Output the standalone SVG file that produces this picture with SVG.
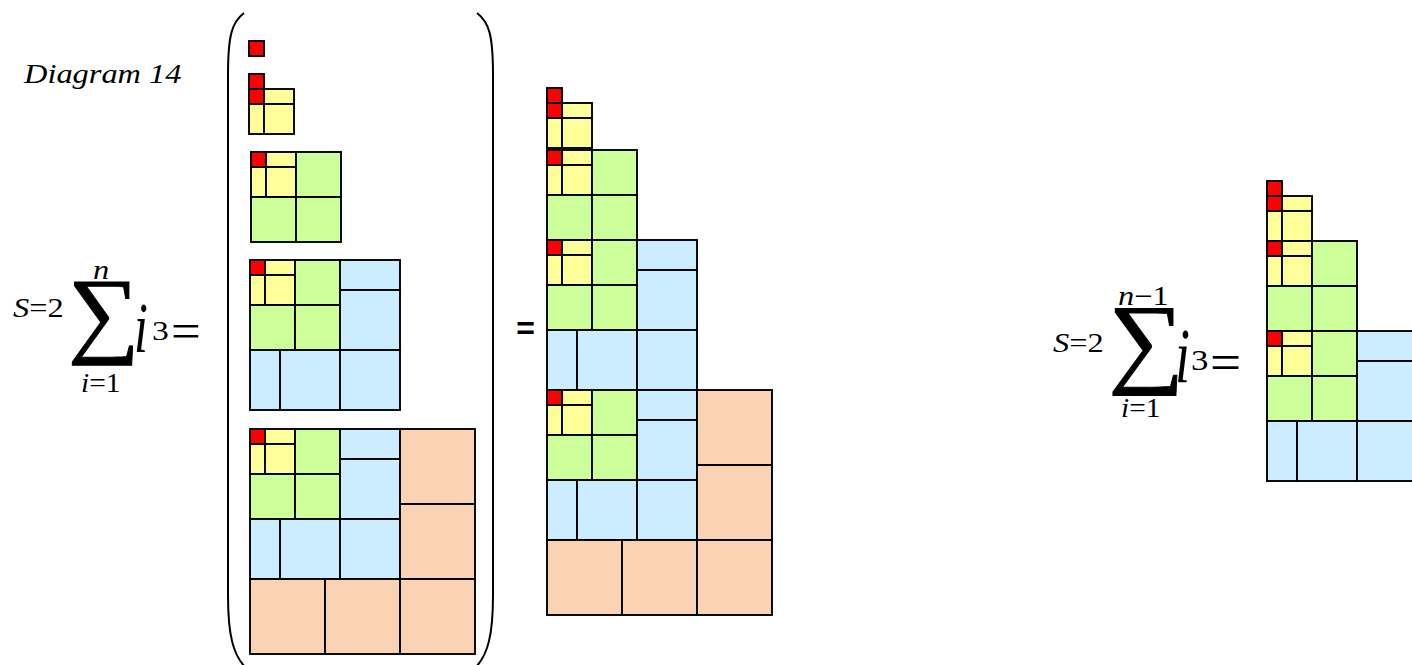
<svg xmlns="http://www.w3.org/2000/svg" xmlns:xlink="http://www.w3.org/1999/xlink" width="1412" height="665" viewBox="0 0 1412 665">
<style>
.cell{stroke:#000;stroke-width:1.9}
.r{fill:#FF0000}.y{fill:#FFFF99}.g{fill:#CCFF99}.b{fill:#CCECFF}.o{fill:#F9D3B4}
.t{font-family:"Liberation Serif","Times New Roman",serif;fill:#000}
.it{font-style:italic}
.sig{stroke:#000;stroke-width:0.9}
.paren{fill:none;stroke:#000;stroke-width:2}
</style>
<defs>
<g id="red"><rect class="cell r" x="0" y="0" width="15" height="15"/></g>
<g id="b2"><use href="#red"/><rect class="cell y" x="15" y="0" width="30" height="15"/><rect class="cell y" x="0" y="15" width="15" height="30"/><rect class="cell y" x="15" y="15" width="30" height="30"/></g>
<g id="b3"><use href="#b2"/><rect class="cell g" x="45" y="0" width="45" height="45"/><rect class="cell g" x="0" y="45" width="45" height="45"/><rect class="cell g" x="45" y="45" width="45" height="45"/></g>
<g id="b4"><use href="#b3"/><rect class="cell b" x="90" y="0" width="60" height="30"/><rect class="cell b" x="90" y="30" width="60" height="60"/><rect class="cell b" x="0" y="90" width="30" height="60"/><rect class="cell b" x="30" y="90" width="60" height="60"/><rect class="cell b" x="90" y="90" width="60" height="60"/></g>
<g id="b5"><use href="#b4"/><rect class="cell o" x="150" y="0" width="75" height="75"/><rect class="cell o" x="150" y="75" width="75" height="75"/><rect class="cell o" x="0" y="150" width="75" height="75"/><rect class="cell o" x="75" y="150" width="75" height="75"/><rect class="cell o" x="150" y="150" width="75" height="75"/></g>
</defs>

<g id="title"><text class="t it" font-size="27" transform="translate(24,83) scale(1.2,1)">Diagram 14</text></g>

<g id="formula1" class="t">
<text font-size="27" transform="translate(13,317) scale(1.2,1)"><tspan class="it">S</tspan>=2</text>
<text class="it" font-size="27" transform="translate(93,279) scale(1.2,1)">n</text>
<text class="sig" font-size="96" transform="translate(68,345) scale(1.05,1)">∑</text>
<text class="it" font-size="50" transform="translate(134,352) scale(1,1.45)">i</text>
<text font-size="28" transform="translate(152,340) scale(1.2,1)">3</text>
<text font-size="44" transform="translate(171,348) scale(1.2,1.15)">=</text>
<text font-size="28" transform="translate(81,392) scale(1.05,1)"><tspan class="it">i</tspan>=1</text>
</g>

<g id="parens">
<path class="paren" d="M244 13 C232 22 228 35 228 75 L228 595 C228 635 233 655 246 668"/>
<path class="paren" d="M477 13 C489 22 493 35 493 75 L493 595 C493 635 488 655 475 668"/>
</g>

<g id="left-stack">
<use href="#red" x="249" y="41"/>
<use href="#red" x="249" y="74"/>
<use href="#b2" x="249" y="89"/>
<use href="#b3" x="251" y="152"/>
<use href="#b4" x="250" y="260"/>
<use href="#b5" x="250" y="429"/>
</g>

<g id="equals"><text font-family="Liberation Sans, Arial, sans-serif" font-weight="bold" font-size="32" text-anchor="middle" x="525.5" y="339">=</text></g>

<g id="middle-stack">
<use href="#red" x="547" y="88"/>
<use href="#b2" x="547" y="103"/>
<use href="#b3" x="547" y="150"/>
<use href="#b4" x="547" y="240"/>
<use href="#b5" x="547" y="390"/>
</g>

<g id="formula2" class="t">
<text font-size="27" transform="translate(1053,352) scale(1.2,1)"><tspan class="it">S</tspan>=2</text>
<text font-size="27" transform="translate(1118,305) scale(1.2,1)"><tspan class="it">n</tspan>−1</text>
<text class="sig" font-size="100" transform="translate(1108,374) scale(1.07,1)">∑</text>
<text class="it" font-size="54" transform="translate(1175,382) scale(1,1.45)">i</text>
<text font-size="29" transform="translate(1191,370) scale(1.2,1)">3</text>
<text font-size="46" transform="translate(1210,380) scale(1.2,1.15)">=</text>
<text font-size="28" transform="translate(1121,417) scale(1.05,1)"><tspan class="it">i</tspan>=1</text>
</g>

<g id="right-stack">
<use href="#red" x="1267" y="181"/>
<use href="#b2" x="1267" y="196"/>
<use href="#b3" x="1267" y="241"/>
<use href="#b4" x="1267" y="331"/>
</g>
</svg>
